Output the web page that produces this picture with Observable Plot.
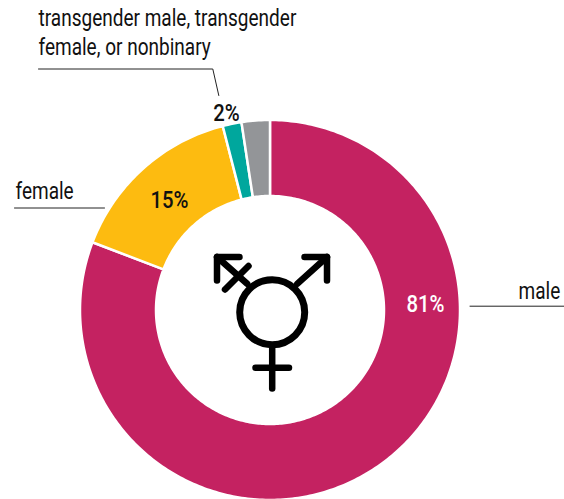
<!DOCTYPE html>
<html>
<head>
<meta charset="utf-8">
<script src="https://cdn.jsdelivr.net/npm/d3@7"></script>
<script src="https://cdn.jsdelivr.net/npm/@observablehq/plot@0.6"></script>
<style>html,body{margin:0;padding:0;background:#fff;overflow:hidden}</style>
</head>
<body>
<div id="chart"></div>
<script>
const categories = ["male", "female", "transgender male, transgender female, or nonbinary", "unknown"];
const values = [80.8, 15.2, 1.6, 2.4];
const colors = ["#c42261", "#fdbb10", "#00a79d", "#939598"];

const centre = [270, 310], outerR = 190, innerR = 114;
const textFont = "Roboto, 'Liberation Sans', sans-serif";

let running = 0;
const arcs = categories.flatMap((category, i) => {
  const start = running, end = running + values[i];
  running = end;
  const n = Math.max(2, Math.ceil(values[i] * 4));
  return d3.range(n + 1).map(k => {
    const a = (start + (end - start) * k / n) / 100 * 2 * Math.PI;
    return {category, a};
  });
});
const px = (a, r) => centre[0] + r * Math.sin(a);
const py = (a, r) => centre[1] - r * Math.cos(a);

const leaders = [
  {id: "trans", x: 38, y: 68.5}, {id: "trans", x: 212.3, y: 68.5}, {id: "trans", x: 218.3, y: 95},
  {id: "female", x: 14, y: 207.5}, {id: "female", x: 104, y: 207.5},
  {id: "male", x: 469.5, y: 305.7}, {id: "male", x: 564, y: 305.7}
];
const labels = [
  {t: "transgender male, transgender", x: 38, y: 25},
  {t: "female, or nonbinary", x: 38, y: 54},
  {t: "female", x: 15, y: 198},
  {t: "male", x: 518, y: 298}
];
const shares = [
  {t: "81%", x: 425, y: 311, c: "#fff"},
  {t: "15%", x: 169, y: 207, c: "#111"},
  {t: "2%", x: 226, y: 120, c: "#111"}
];
const symbolStrokes = [
  [[271.7, 346], [271.7, 388]], [[255, 367.3], [288.5, 367.3]],
  [[296.7, 283.3], [326.5, 256.5]], [[304, 256.5], [326.5, 256.5], [326.5, 280]],
  [[246.7, 283.3], [216.5, 256.5]], [[239, 256.5], [216.5, 256.5], [216.5, 280]],
  [[224.5, 289], [248, 265.5]]
].flatMap((pts, id) => pts.map(([x, y]) => ({id, x, y})));

const chart = Plot.plot({
  width: 564, height: 499,
  margin: 0,
  x: {domain: [0, 564], range: [0, 564], axis: null},
  y: {domain: [0, 499], range: [0, 499], axis: null},
  color: {domain: categories, range: colors},
  style: {background: "#fff", fontFamily: textFont},
  marks: [
    Plot.area(arcs, {
      x1: d => px(d.a, innerR), y1: d => py(d.a, innerR),
      x2: d => px(d.a, outerR), y2: d => py(d.a, outerR),
      z: "category", fill: "category", stroke: "#fff", strokeWidth: 2.5
    }),
    Plot.line(leaders, {x: "x", y: "y", z: "id", stroke: "#222", strokeWidth: 1}),
    Plot.text(labels, {x: "x", y: "y", text: "t", textAnchor: "start", lineAnchor: "bottom", fontSize: 23, fill: "#111", className: "lab"}),
    Plot.text(shares, {x: "x", y: "y", text: "t", textAnchor: "middle", lineAnchor: "bottom", fontSize: 24, fontWeight: 500, fill: "c", className: "shr"}),
    Plot.line(symbolStrokes, {x: "x", y: "y", z: "id", stroke: "#000", strokeWidth: 6.5, strokeLinecap: "round", strokeLinejoin: "round"}),
    Plot.dot([{x: 271.7, y: 311.7}], {x: "x", y: "y", r: 32.5, stroke: "#000", strokeWidth: 7, fill: "none"})
  ]
});
document.getElementById("chart").append(chart);

// the reference face is condensed: narrow each text group horizontally about its own anchor
const squeeze = (selector, match, width) => {
  const texts = [...chart.querySelectorAll(selector + " text")];
  const s = width / texts.find(t => t.textContent === match).getComputedTextLength();
  for (const t of texts) t.setAttribute("transform", `${t.getAttribute("transform") || ""} scale(${s},1)`);
};
squeeze(".lab", "transgender male, transgender", 258);
squeeze(".shr", "81%", 38);
</script>
</body>
</html>
